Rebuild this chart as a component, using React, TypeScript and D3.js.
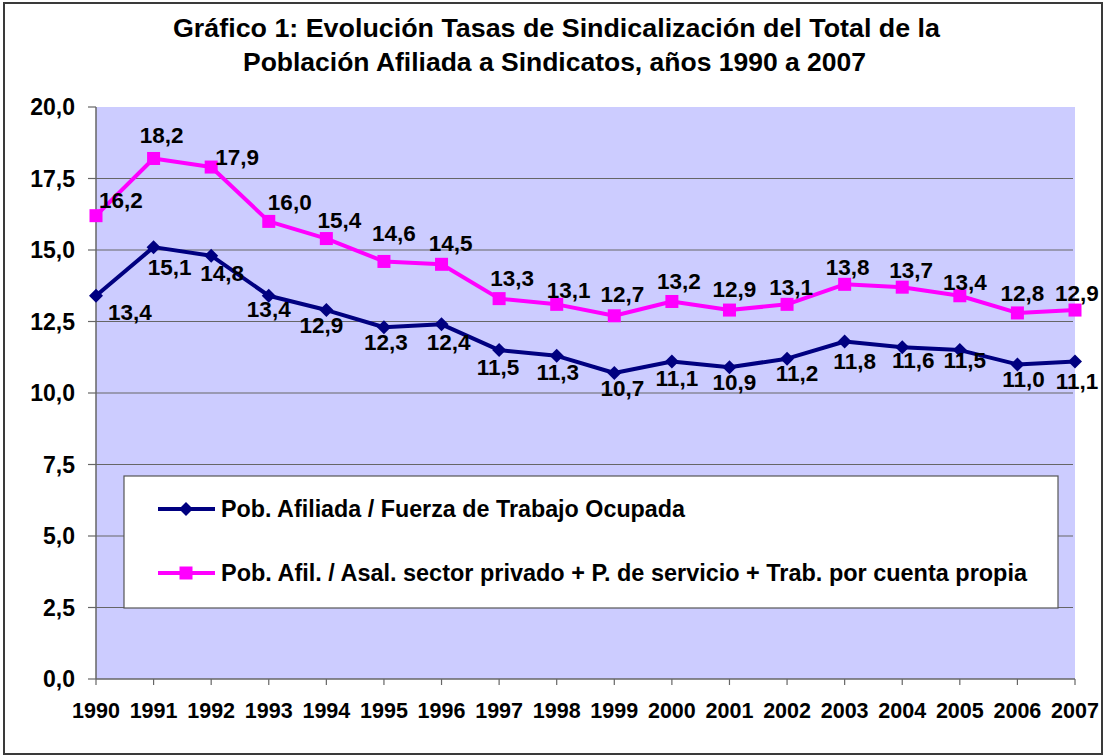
import React from "react";
import * as d3 from "d3";

const years = ["1990","1991","1992","1993","1994","1995","1996","1997","1998","1999","2000","2001","2002","2003","2004","2005","2006","2007"];
const afiliadaOcupada = [13.4,15.1,14.8,13.4,12.9,12.3,12.4,11.5,11.3,10.7,11.1,10.9,11.2,11.8,11.6,11.5,11.0,11.1];
const afilAsalariados = [16.2,18.2,17.9,16.0,15.4,14.6,14.5,13.3,13.1,12.7,13.2,12.9,13.1,13.8,13.7,13.4,12.8,12.9];
const yTicks = [0,2.5,5,7.5,10,12.5,15,17.5,20];
const titleLines = ["Gráfico 1: Evolución Tasas de Sindicalización del Total de la","Población Afiliada a Sindicatos, años 1990 a 2007"];
const seriesNames = ["Pob. Afiliada / Fuerza de Trabajo Ocupada","Pob. Afil. / Asal. sector privado + P. de servicio + Trab. por cuenta propia"];

// label nudges (layout only)
const pinkDx = [25,8,26,21,13,10,9,13,12,8,7,5,4,3,9,5,5,2];
const pinkDy = [-16,-24,-10,-20,-19,-29,-21,-21,-14,-22,-21,-21,-17,-17,-17,-14,-20,-17];
const blueDx = [34,16,11,0,-5,2,7,-1,1,8,5,5,10,10,11,5,6,2];
const blueDy = [16,20,17,13,15,15,18,17,16,15,16,15,14,19,13,10,14,19];

const FONT = "'Liberation Sans', Arial, sans-serif";
const NAVY = "#000080";
const MAGENTA = "#FF00FF";

export default function App() {
  const W = 1105, H = 756;
  const left = 96, right = 1075, top = 107, bottom = 679;
  const x = d3.scalePoint<string>().domain(years).range([left, right]);
  const y = d3.scaleLinear().domain([0, 20]).range([bottom, top]);
  const line = d3.line<number>().x((_, i) => x(years[i])!).y(d => y(d));
  const fmt = (v: number) => d3.format(".1f")(v).replace(".", ",");
  const diamond = (cx: number, cy: number, r: number) => `M${cx},${cy - r}L${cx + r},${cy}L${cx},${cy + r}L${cx - r},${cy}Z`;
  const titleLens = [767, 623];
  const titleX = [173, 243];

  return (
    <svg width={W} height={H} style={{ position: "absolute", left: 0, top: 0, background: "#fff" }} fontFamily={FONT}>
      <rect x={0} y={0} width={W} height={H} fill="#fff" />
      <rect x={4} y={3} width={1098} height={751} fill="#fff" stroke="#3a3a3a" strokeWidth={2} />
      {titleLines.map((t, i) => (
        <text key={i} x={titleX[i]} y={37 + i * 34} fontSize={25} fontWeight="bold" fill="#000"
          textLength={titleLens[i]} lengthAdjust="spacingAndGlyphs">{t}</text>
      ))}
      <rect x={left} y={top} width={right - left} height={bottom - top} fill="#CCCCFF" />
      {yTicks.filter(t => t > 0 && t < 20).map(t => (
        <line key={t} x1={left} x2={right - 2} y1={y(t)} y2={y(t)} stroke="#666" strokeWidth={1.2} />
      ))}
      <line x1={left} x2={left} y1={top} y2={bottom} stroke="#666" strokeWidth={1.5} />
      <line x1={left} x2={right} y1={bottom} y2={bottom} stroke="#666" strokeWidth={1.5} />
      {yTicks.map(t => (
        <g key={t}>
          <line x1={88} x2={left} y1={y(t)} y2={y(t)} stroke="#666" strokeWidth={1.2} />
          <text x={75} y={y(t)} dy="0.36em" textAnchor="end" fontSize={23} fontWeight="bold">{fmt(t)}</text>
        </g>
      ))}
      {years.map(yr => (
        <g key={yr}>
          <line x1={x(yr)} x2={x(yr)} y1={bottom} y2={bottom + 6} stroke="#666" strokeWidth={1.2} />
          <text x={x(yr)} y={710} dy="0.36em" textAnchor="middle" fontSize={21.5} fontWeight="bold">{yr}</text>
        </g>
      ))}
      <path d={line(afilAsalariados)!} fill="none" stroke={MAGENTA} strokeWidth={4} strokeLinejoin="round" />
      <path d={line(afiliadaOcupada)!} fill="none" stroke={NAVY} strokeWidth={4} strokeLinejoin="round" />
      {afilAsalariados.map((v, i) => (
        <rect key={i} x={x(years[i])! - 6.5} y={y(v) - 6.5} width={13} height={13} fill={MAGENTA} />
      ))}
      {afiliadaOcupada.map((v, i) => (
        <path key={i} d={diamond(x(years[i])!, y(v), 7)} fill={NAVY} />
      ))}
      {afilAsalariados.map((v, i) => (
        <text key={i} x={x(years[i])! + pinkDx[i]} y={y(v) + pinkDy[i]} dy="0.36em" textAnchor="middle" fontSize={22.5} fontWeight="bold">{fmt(v)}</text>
      ))}
      {afiliadaOcupada.map((v, i) => (
        <text key={i} x={x(years[i])! + blueDx[i]} y={y(v) + blueDy[i]} dy="0.36em" textAnchor="middle" fontSize={22.5} fontWeight="bold">{fmt(v)}</text>
      ))}
      <rect x={124} y={476} width={934} height={132} fill="#fff" stroke="#555" strokeWidth={1.2} />
      <line x1={158} x2={215} y1={509} y2={509} stroke={NAVY} strokeWidth={4} />
      <path d={diamond(186, 509, 7)} fill={NAVY} />
      <text x={221} y={509} dy="0.36em" fontSize={23} fontWeight="bold" textLength={464} lengthAdjust="spacingAndGlyphs">{seriesNames[0]}</text>
      <line x1={158} x2={215} y1={573} y2={573} stroke={MAGENTA} strokeWidth={4} />
      <rect x={179.5} y={566.5} width={13} height={13} fill={MAGENTA} />
      <text x={221} y={573} dy="0.36em" fontSize={23} fontWeight="bold" textLength={806} lengthAdjust="spacingAndGlyphs">{seriesNames[1]}</text>
    </svg>
  );
}
